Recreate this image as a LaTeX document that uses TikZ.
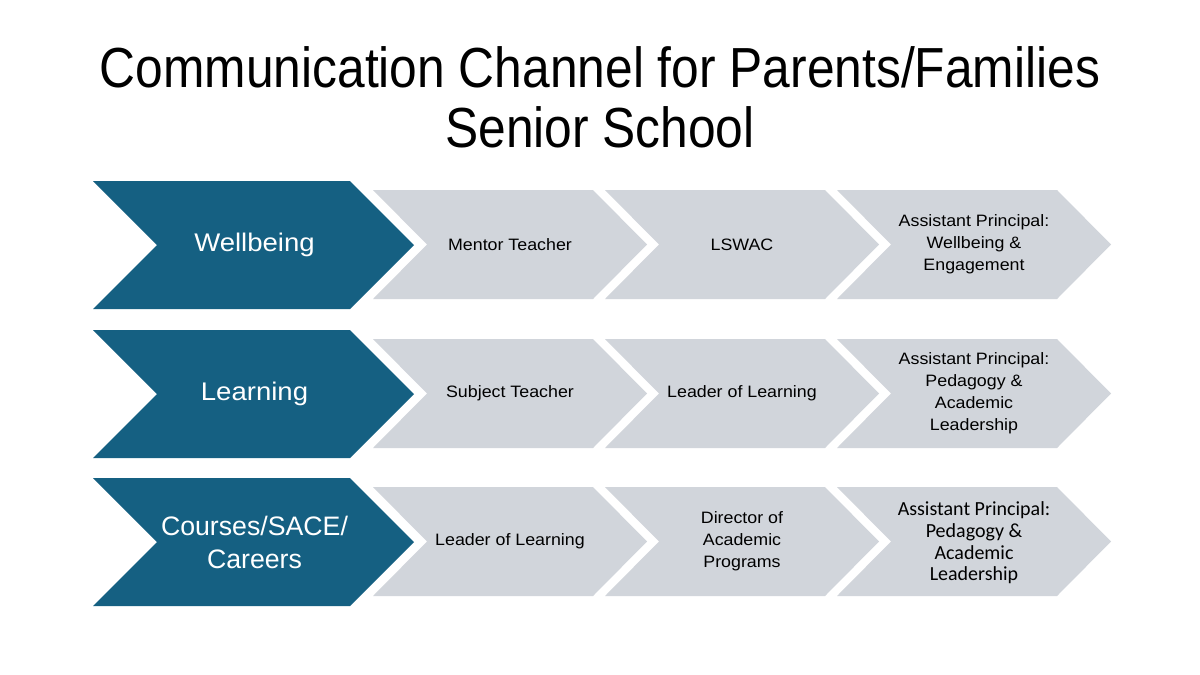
\documentclass[tikz,border=0pt]{standalone}
\usepackage{fontspec}
\setmainfont{Liberation Sans}
\newfontfamily\titlefont[FakeStretch=0.88]{Liberation Sans}
\newfontfamily\bodyfont[FakeStretch=1.08]{Liberation Sans}
\newfontfamily\calfont{Carlito}
\definecolor{darkteal}{HTML}{156082}
\definecolor{lightgrey}{HTML}{D1D5DB}
\newcommand\chevshape[6]{% x0 y0 w h d colour
  \fill[#6] (#1,#2) -- ++(#3-#5,0) -- ++(#5,#4/2) -- ++(-#5,#4/2) -- ++(-#3+#5,0) -- ++(#5,-#4/2) -- cycle;}
\tikzset{
  darklabel/.style={text=white, align=center, font=\bodyfont\fontsize{25.5}{32}\selectfont, inner sep=0pt},
  lightlabel/.style={text=black, align=center, font=\bodyfont\fontsize{16.5}{22}\selectfont, inner sep=0pt},
  callabel/.style={text=black, align=center, font=\calfont\fontsize{20}{21.7}\selectfont, inner sep=0pt},
}
\begin{document}
\begin{tikzpicture}[x=1pt,y=-1pt]
\useasboundingbox (0,0) rectangle (1200,675);
\fill[white] (0,0) rectangle (1200,675);
\node[font=\titlefont\fontsize{56.5}{60}\selectfont, align=center, anchor=base] (title1) at (600,87) {Communication Channel for Parents/Families};
\node[font=\titlefont\fontsize{56.5}{60}\selectfont, align=center, anchor=base] (title2) at (600,147) {Senior School};
% rows
\foreach \dy in {0,149,297}{
  \chevshape{93}{181+\dy}{321}{128}{64}{darkteal}
  \foreach \k in {0,1,2}{
    \chevshape{373+232*\k}{190+\dy}{274}{109}{54}{lightgrey}
  }
}
% row 1
\node[darklabel] (w0) at (254.5,245) {Wellbeing};
\node[lightlabel] (w1) at (510,244.5) {Mentor Teacher};
\node[lightlabel] (w2) at (742,244.5) {LSWAC};
\node[lightlabel] (w3) at (974,244.5) {Assistant Principal:\\Wellbeing \&\\Engagement};
% row 2
\node[darklabel] (l0) at (254.5,394) {Learning};
\node[lightlabel] (l1) at (510,393.5) {Subject Teacher};
\node[lightlabel] (l2) at (742,393.5) {Leader of Learning};
\node[lightlabel] (l3) at (974,393.5) {Assistant Principal:\\Pedagogy \&\\Academic\\Leadership};
% row 3
\node[darklabel, font=\fontsize{26.7}{33}\selectfont] (c0) at (254.5,542) {Courses/SACE/\\Careers};
\node[lightlabel] (c1) at (510,541.5) {Leader of Learning};
\node[lightlabel] (c2) at (742,541.5) {Director of\\Academic\\Programs};
\node[callabel] (c3) at (974,543) {Assistant Principal:\\Pedagogy \&\\Academic\\Leadership};
\end{tikzpicture}
\end{document}
